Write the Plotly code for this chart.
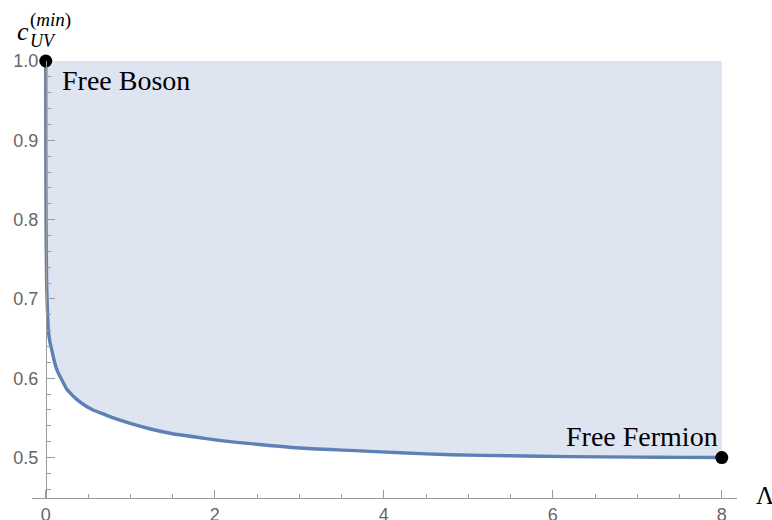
import plotly.graph_objects as go

# Data
lam = [0, 0.0005, 0.003, 0.01, 0.02, 0.03, 0.05, 0.07, 0.1, 0.13, 0.16, 0.19,
       0.25, 0.31, 0.37, 0.46, 0.56, 0.68, 0.8, 1.0, 1.24, 1.5, 1.83, 2.1,
       2.42, 3.0, 3.6, 4.2, 4.8, 5.5, 6.2, 7.0, 7.5, 8.0]
c_min = [1.0, 0.9, 0.8, 0.72, 0.685, 0.661, 0.645, 0.636, 0.622, 0.611, 0.604,
         0.598, 0.586, 0.579, 0.573, 0.566, 0.56, 0.555, 0.55, 0.543, 0.536,
         0.53, 0.525, 0.521, 0.5175, 0.512, 0.509, 0.506, 0.5035, 0.5022,
         0.5012, 0.5005, 0.5002, 0.5]
point_x = [0, 8]
point_y = [1.0, 0.5]
x_ticks = [0, 2, 4, 6, 8]
y_ticks = [0.5, 0.6, 0.7, 0.8, 0.9, 1.0]

LINE = "#5E81B5"
FILL = "rgb(222,228,240)"
AX = "#9a9a9a"
TXT = "#666666"
SERIF = "Liberation Serif"

fig = go.Figure()
fig.add_trace(go.Scatter(
    x=lam + [lam[-1], lam[0]], y=c_min + [1.0, 1.0],
    fill="toself", fillcolor=FILL, line=dict(width=0),
    mode="lines", hoverinfo="skip", showlegend=False))
fig.add_trace(go.Scatter(
    x=lam, y=c_min, mode="lines",
    line=dict(color=LINE, width=3.4, shape="spline", smoothing=0.5),
    showlegend=False, cliponaxis=False))
fig.add_trace(go.Scatter(
    x=point_x, y=point_y, mode="markers",
    marker=dict(color="black", size=13), showlegend=False, cliponaxis=False))

W, H = 772, 520
L, R, T, B = 32, 35, 61, 22
x0, x1 = -0.163, 8.18
y0, y1 = 0.449, 1.0
ypos = (0 - x0) / (x1 - x0)

fig.update_layout(
    width=W, height=H,
    margin=dict(l=L, r=R, t=T, b=B),
    plot_bgcolor="white", paper_bgcolor="white",
    xaxis=dict(
        range=[x0, x1], showgrid=False, zeroline=False, automargin=False,
        showline=True, linecolor=AX, linewidth=1,
        tickvals=x_ticks, ticks="inside", ticklen=8, tickcolor=AX,
        tickfont=dict(family="Liberation Sans", size=18, color=TXT),
        minor=dict(dtick=0.5, ticks="inside", ticklen=4, tickcolor=AX),
    ),
    yaxis=dict(
        range=[y0, y1], showgrid=False, zeroline=False, automargin=False,
        anchor="free", position=ypos,
        showline=True, linecolor=AX, linewidth=1,
        tickvals=y_ticks, tickformat=".1f", ticks="inside", ticklen=8, tickcolor=AX,
        tickfont=dict(family="Liberation Sans", size=18, color=TXT),
        minor=dict(dtick=0.02, ticks="inside", ticklen=4, tickcolor=AX),
        ticklabelstandoff=4,
    ),
)

ann = [
    dict(x=0.17, y=0.976, text="Free Boson", xanchor="left", yanchor="middle",
         font=dict(family=SERIF, size=28, color="black")),
    dict(x=7.98, y=0.527, text="Free Fermion", xanchor="right", yanchor="middle",
         font=dict(family=SERIF, size=28, color="black")),
]
for a in ann:
    a.update(xref="x", yref="y", showarrow=False)
    fig.add_annotation(**a)

def px(xp):
    return (xp - L) / (W - L - R)

def py(yp):
    return (H - B - yp) / (H - T - B)

labels = [
    dict(x=px(23), y=py(31), text="<i>c</i>", size=26, xa="center"),
    dict(x=px(29), y=py(20), text="(<i>min</i>)", size=19, xa="left"),
    dict(x=px(29), y=py(41), text="<i>UV</i>", size=18, xa="left"),
    dict(x=px(765), y=py(495), text="Λ", size=25, xa="center"),
]
for l in labels:
    fig.add_annotation(x=l["x"], y=l["y"], xref="paper", yref="paper",
                       text=l["text"], showarrow=False, xanchor=l["xa"],
                       yanchor="middle", borderpad=0,
                       font=dict(family=SERIF, size=l["size"], color="black"))

fig.write_html("out.html")
